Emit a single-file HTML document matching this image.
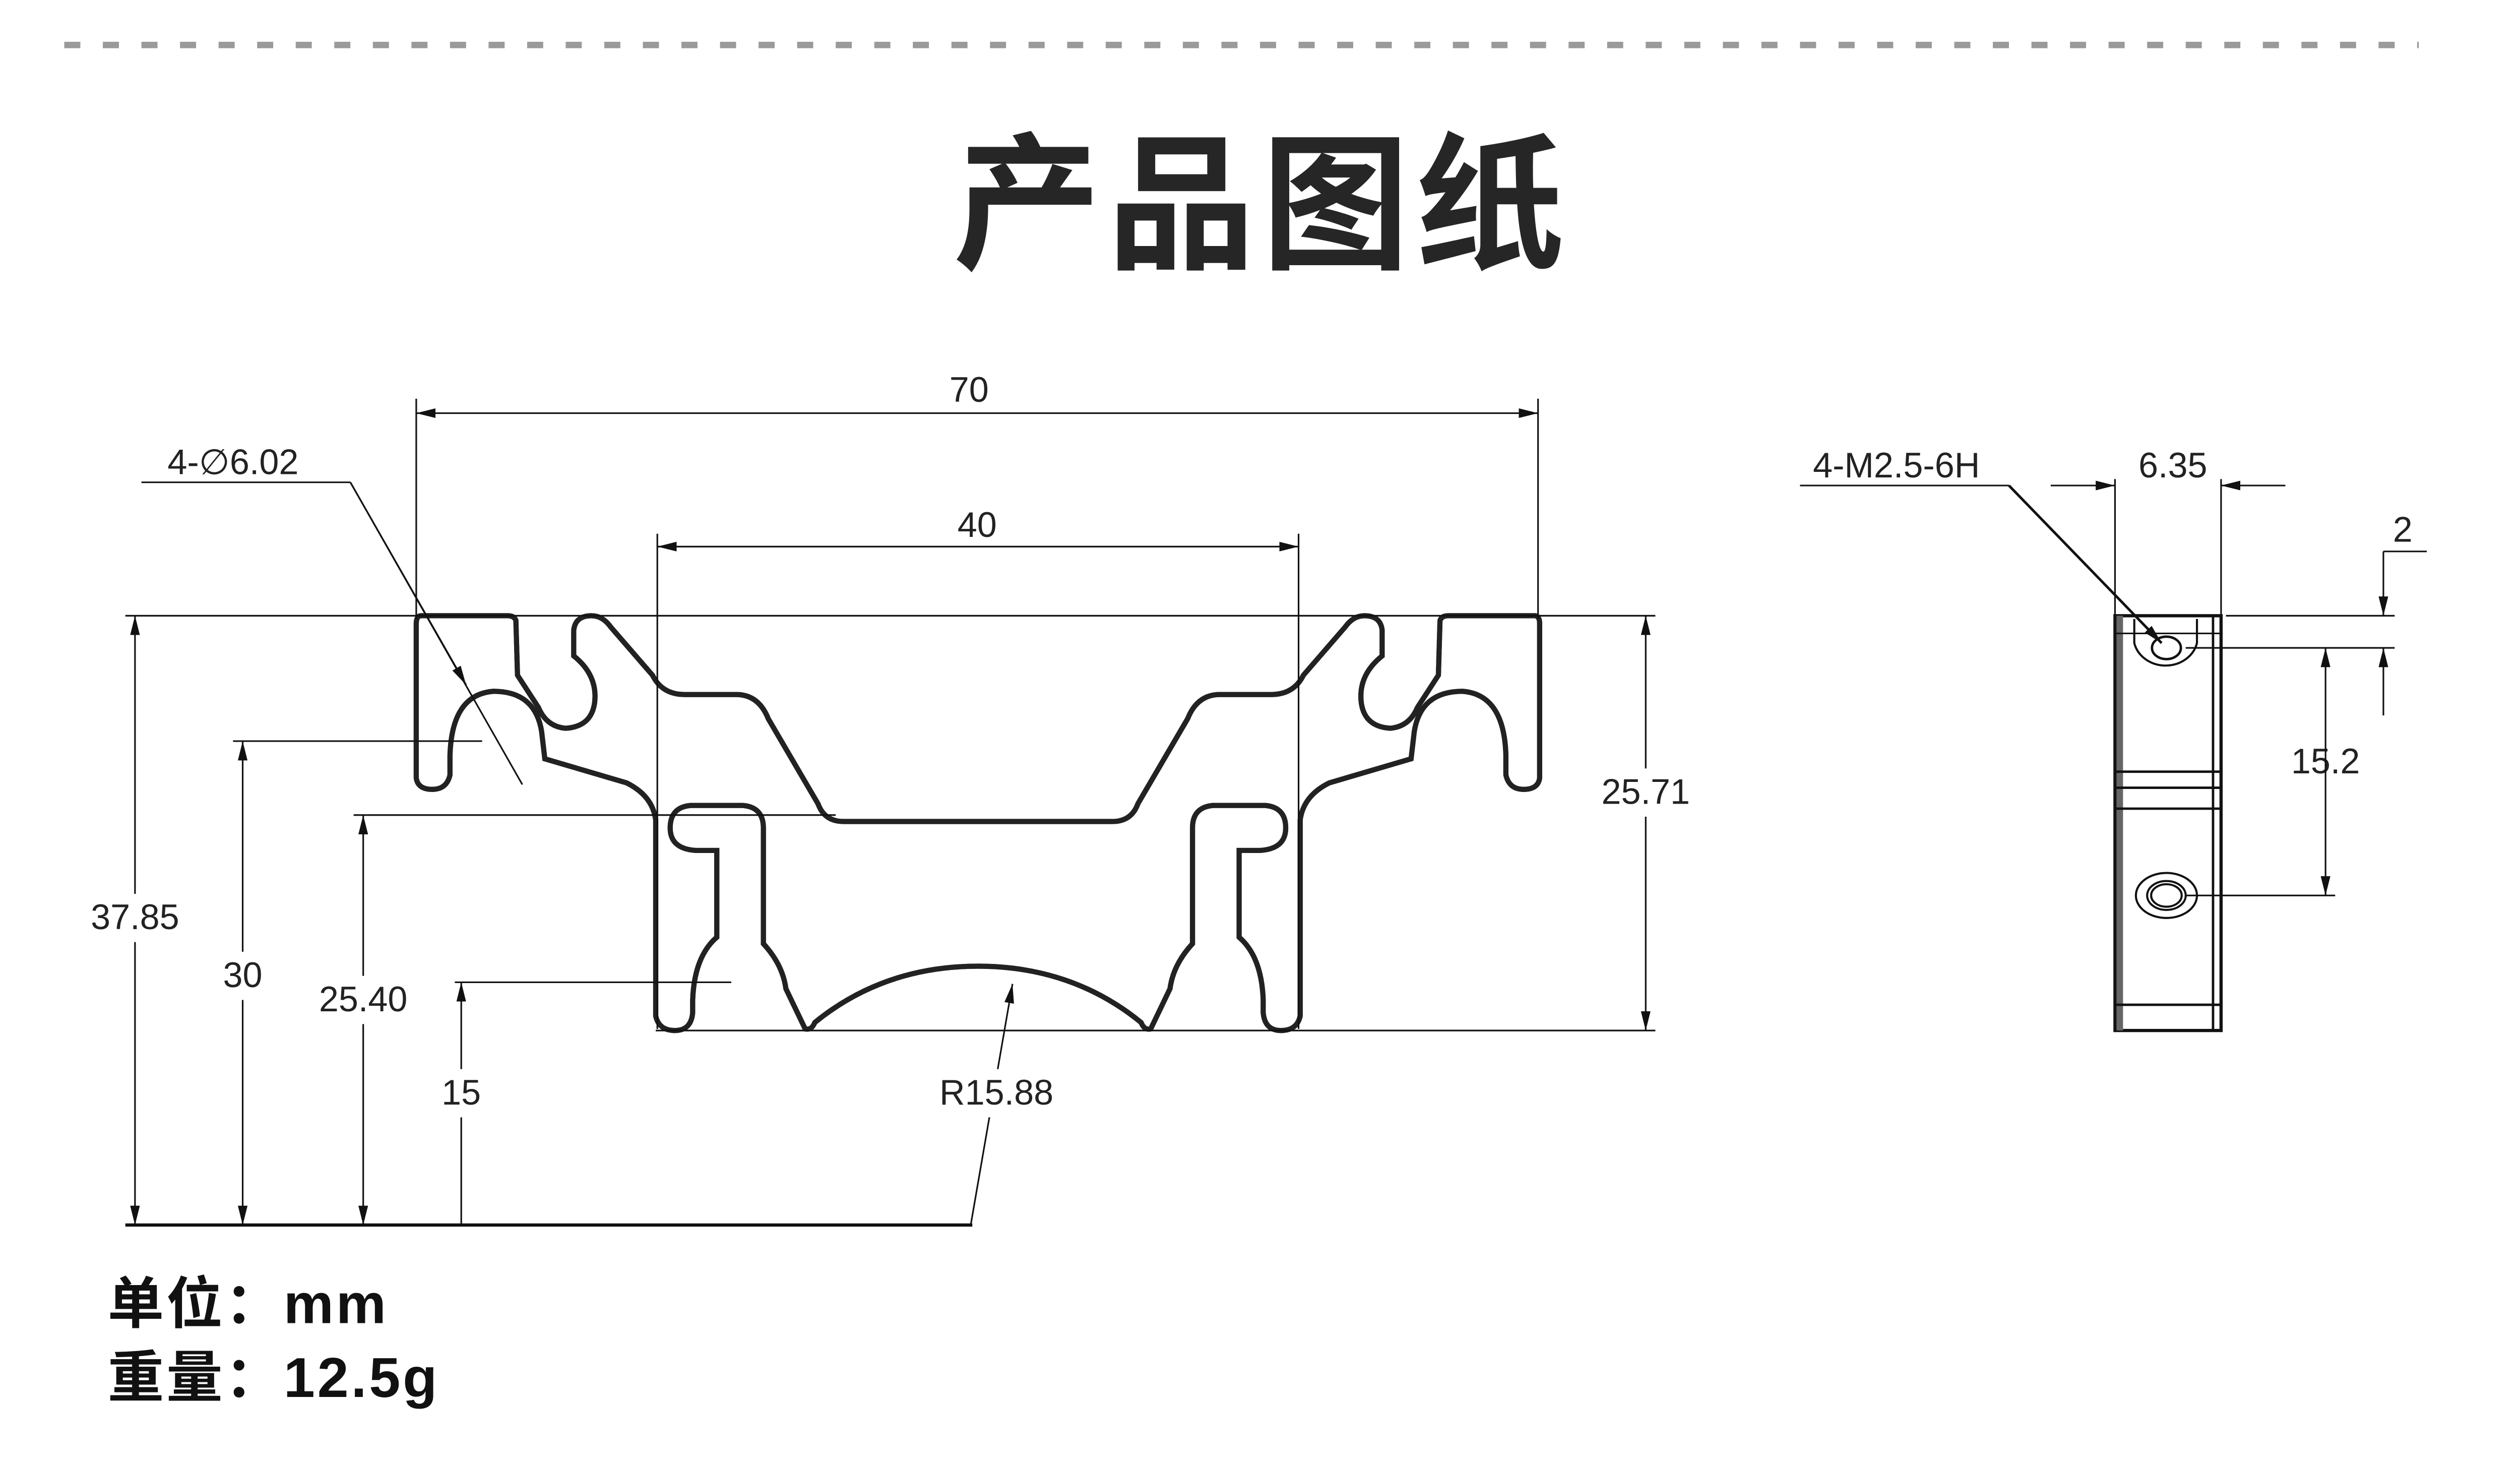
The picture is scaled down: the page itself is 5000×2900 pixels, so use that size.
<!DOCTYPE html>
<html><head><meta charset="utf-8"><style>
html,body{margin:0;padding:0;background:#fff;width:5000px;height:2900px;overflow:hidden}
svg{display:block}
</style></head><body>
<svg width="5000" height="2900" viewBox="0 0 1568 909.4" preserveAspectRatio="none" xmlns="http://www.w3.org/2000/svg">
<defs>
<marker id="a" viewBox="0 0 12 6" refX="12" refY="3" markerWidth="12" markerHeight="6" markerUnits="userSpaceOnUse" orient="auto-start-reverse"><path d="M0,0 L12,3 L0,6 Z" fill="#111"/></marker>
</defs>
<rect width="1568" height="909.4" fill="#fff"/>
<line x1="40" y1="28" x2="1505" y2="28" stroke="#9a9a9a" stroke-width="4" stroke-dasharray="10,14"/>
<text x="785" y="160" text-anchor="middle" font-family="Liberation Sans, Noto Sans CJK SC, sans-serif" font-weight="bold" font-size="92" fill="#262626" letter-spacing="4">产品图纸</text>

<g id="half" fill="none">
<path id="hp" d="M608.5,511 L525,511 Q513,511 509,500 L478,447 Q472,432 458,432 L426,432 Q412,432 406,420 L380,390 Q375,383 368,383 Q358,383 357,392 L357,408 Q372,420 370,437 Q368,452 352,453 Q340,452 335,440 L322,420 L321,386 Q320,383 316,383 L262,383 Q259,383 259,388 L259,484 Q260,491 269,491 Q278,491 280,482 L280,470 Q281,432 307,430 Q333,430 337,455 L339,472 L390,487 Q406,495 408,510 L408,632 Q410,641 420,641 Q430,641 431,630 L431,622 Q432,595 446,583 L446,529 L433,529 Q417,528 417,515 Q417,502 430,501 L462,501 Q475,502 475,515 L475,587 Q487,600 489,615 L501,640 Q505,641 507,636 Q550,601 608.5,601" stroke="#222" stroke-width="3.2"/>
<use href="#hp" stroke="#fff" stroke-width="1"/>
</g>
<use href="#half" transform="translate(1217,0) scale(-1,1)"/>

<g stroke="#111" stroke-width="1" fill="none">
<line x1="78" y1="383" x2="1030" y2="383"/>
<line x1="408" y1="641" x2="1030" y2="641"/>
<line x1="78" y1="762" x2="605" y2="762" stroke-width="2"/>
<line x1="259" y1="248" x2="259" y2="385"/>
<line x1="957" y1="248" x2="957" y2="385"/>
<line x1="259" y1="257" x2="957" y2="257" marker-start="url(#a)" marker-end="url(#a)"/>
<line x1="409" y1="332" x2="409" y2="640"/>
<line x1="808" y1="332" x2="808" y2="640"/>
<line x1="409" y1="340" x2="808" y2="340" marker-start="url(#a)" marker-end="url(#a)"/>
<line x1="84" y1="383" x2="84" y2="762" marker-start="url(#a)" marker-end="url(#a)"/>
<line x1="145" y1="461" x2="300" y2="461"/>
<line x1="151" y1="461" x2="151" y2="762" marker-start="url(#a)" marker-end="url(#a)"/>
<line x1="220" y1="507" x2="520" y2="507"/>
<line x1="226" y1="507" x2="226" y2="762" marker-start="url(#a)" marker-end="url(#a)"/>
<line x1="283" y1="611" x2="455" y2="611"/>
<line x1="287" y1="611" x2="287" y2="762" marker-start="url(#a)"/>
<line x1="1024" y1="383" x2="1024" y2="641" marker-start="url(#a)" marker-end="url(#a)"/>
<line x1="604" y1="762" x2="630" y2="612" marker-end="url(#a)"/>
<line x1="88" y1="300" x2="218" y2="300"/>
<line x1="218" y1="300" x2="325" y2="488"/>
<line x1="218" y1="300" x2="290" y2="426" marker-end="url(#a)"/>
</g>
<g font-family="Liberation Sans, sans-serif" font-size="22" fill="#222" text-anchor="middle">
<text x="603" y="250">70</text>
<text x="608" y="334">40</text>
<rect x="50" y="556" width="68" height="30" fill="#fff"/>
<text x="84" y="578">37.85</text>
<rect x="132" y="592" width="38" height="30" fill="#fff"/>
<text x="151" y="614">30</text>
<rect x="192" y="607" width="68" height="30" fill="#fff"/>
<text x="226" y="629">25.40</text>
<rect x="268" y="665" width="38" height="30" fill="#fff"/>
<text x="287" y="687">15</text>
<rect x="990" y="478" width="68" height="30" fill="#fff"/>
<text x="1024" y="500">25.71</text>
<rect x="580" y="665" width="80" height="30" fill="#fff"/>
<text x="620" y="687">R15.88</text>
<text x="145" y="295">4-∅6.02</text>
<text x="1180" y="297">4-M2.5-6H</text>
<text x="1352" y="297">6.35</text>
<text x="1495" y="337">2</text>
<rect x="1420" y="458" width="54" height="30" fill="#fff"/>
<text x="1447" y="481">15.2</text>
</g>

<!-- side view -->
<g stroke="#111" fill="none">
<rect x="1316" y="383" width="66" height="258" stroke-width="2"/>
<line x1="1319" y1="383" x2="1319" y2="641" stroke="#666" stroke-width="4"/>
<line x1="1377" y1="383" x2="1377" y2="641" stroke-width="1.5"/>
<line x1="1316" y1="394" x2="1382" y2="394"/>
<line x1="1316" y1="480" x2="1382" y2="480" stroke-width="1.5"/>
<line x1="1316" y1="490" x2="1382" y2="490" stroke-width="1.5"/>
<line x1="1316" y1="503" x2="1382" y2="503" stroke-width="1.5"/>
<line x1="1316" y1="625" x2="1382" y2="625" stroke-width="1.5"/>
<path d="M1328,385 L1328,400 A20,18 0 0 0 1367,400 L1367,385" stroke-width="1.3"/>
<ellipse cx="1348" cy="403" rx="9" ry="7" stroke-width="1.5"/>
<ellipse cx="1348" cy="557" rx="19" ry="14" stroke-width="1.3"/>
<ellipse cx="1348" cy="557" rx="12" ry="9" stroke-width="1.3"/>
<ellipse cx="1348" cy="557" rx="9.5" ry="7" stroke-width="1.3"/>
</g>
<g stroke="#111" stroke-width="1" fill="none">
<line x1="1316" y1="298" x2="1316" y2="383"/>
<line x1="1382" y1="298" x2="1382" y2="383"/>
<line x1="1276" y1="302" x2="1316" y2="302" marker-end="url(#a)"/>
<line x1="1422" y1="302" x2="1382" y2="302" marker-end="url(#a)"/>
<line x1="1120" y1="302" x2="1250" y2="302"/>
<line x1="1250" y1="302" x2="1345" y2="400" stroke-width="1.6" marker-end="url(#a)"/>
<line x1="1385" y1="383" x2="1490" y2="383"/>
<line x1="1360" y1="403" x2="1490" y2="403"/>
<line x1="1483" y1="343" x2="1510" y2="343"/>
<line x1="1483" y1="343" x2="1483" y2="383" marker-end="url(#a)"/>
<line x1="1483" y1="445" x2="1483" y2="403" marker-end="url(#a)"/>
<line x1="1360" y1="557" x2="1453" y2="557"/>
<line x1="1447" y1="403" x2="1447" y2="557" marker-start="url(#a)" marker-end="url(#a)"/>
</g>

<g font-family="Liberation Sans, Noto Sans CJK SC, sans-serif" font-weight="bold" font-size="35" fill="#111" letter-spacing="1.5">
<text x="67" y="823">单位：mm</text>
<text x="67" y="869">重量：12.5g</text>
</g>
</svg>
</body></html>
